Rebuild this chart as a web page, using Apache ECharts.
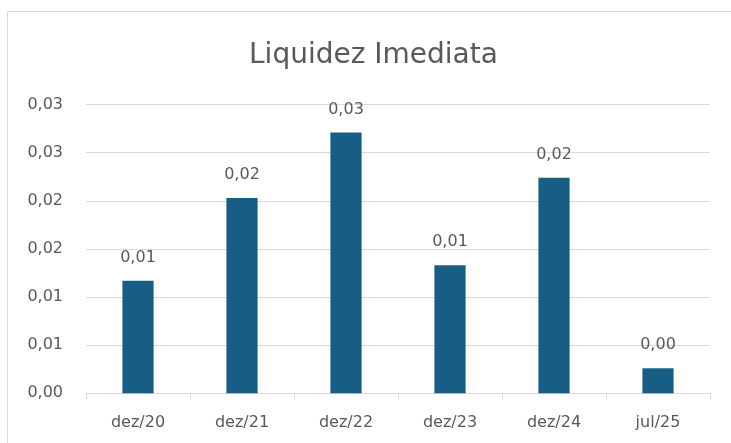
<!DOCTYPE html>
<html>
<head>
<meta charset="utf-8">
<script src="https://cdn.jsdelivr.net/npm/echarts@6/dist/echarts.min.js"></script>
<style>
  html, body { margin: 0; padding: 0; background: #fff; }
  #chart { width: 731px; height: 443px; }
</style>
</head>
<body>
<div id="chart"></div>
<script>
// periods and values (Liquidez Imediata)
var categories = ['dez/20', 'dez/21', 'dez/22', 'dez/23', 'dez/24', 'jul/25'];
var values = [0.0117, 0.0203, 0.0271, 0.0133, 0.0224, 0.0026];
var yTicks = [0, 0.005, 0.01, 0.015, 0.02, 0.025, 0.03];

// 2 decimals, comma, round half up (like the spreadsheet)
function fmt(v) {
  var r = Math.round(v * 100 + 1e-9) / 100;
  return r.toFixed(2).replace('.', ',');
}

var chart = echarts.init(document.getElementById('chart'), null, { renderer: 'canvas' });

var option = {
  backgroundColor: '#fff',
  animation: false,
  textStyle: { fontFamily: 'DejaVu Sans' },
  title: {
    text: 'Liquidez Imediata',
    left: 249,
    top: 42,
    padding: 0,
    textStyle: { color: '#595959', fontSize: 28, fontWeight: 'normal', fontFamily: 'DejaVu Sans' }
  },
  graphic: [
    {
      type: 'rect',
      shape: { x: 7.5, y: 11.5, width: 740, height: 450 },
      style: { fill: null, stroke: '#d9d9d9', lineWidth: 1 },
      silent: true
    }
  ],
  grid: { left: 86, right: 21, top: 104.5, bottom: 49.7 },
  xAxis: {
    type: 'category',
    data: categories,
    axisLine: { lineStyle: { color: '#d9d9d9' } },
    axisTick: { show: true, length: 6, lineStyle: { color: '#d9d9d9' } },
    axisLabel: { color: '#595959', fontSize: 16, margin: 22 }
  },
  yAxis: {
    type: 'value',
    min: yTicks[0],
    max: yTicks[yTicks.length - 1],
    interval: yTicks[1] - yTicks[0],
    axisLine: { show: false },
    axisTick: { show: false },
    splitLine: { lineStyle: { color: '#d9d9d9' } },
    axisLabel: { color: '#595959', fontSize: 16, margin: 23, formatter: fmt }
  },
  series: [
    {
      type: 'bar',
      data: values,
      barWidth: '30%',
      itemStyle: { color: '#175e84' },
      label: {
        show: true,
        position: 'top',
        distance: 15,
        color: '#595959',
        fontSize: 16,
        formatter: function (p) { return fmt(p.value); }
      }
    }
  ]
};

chart.setOption(option);
</script>
</body>
</html>
